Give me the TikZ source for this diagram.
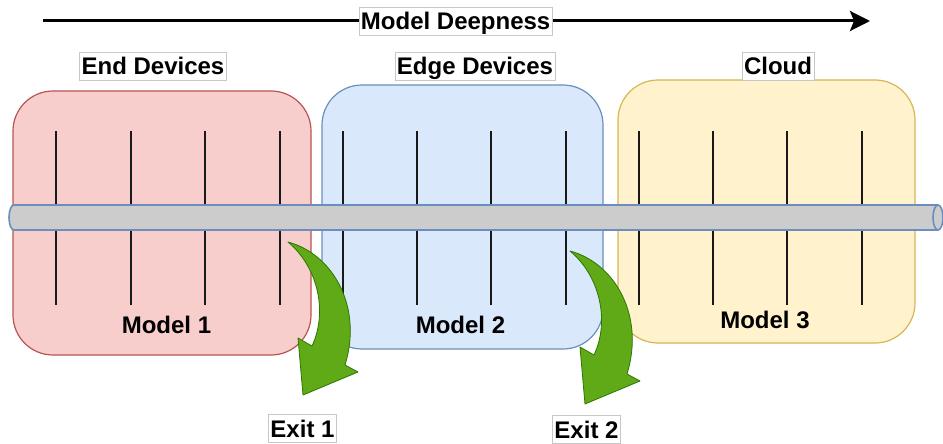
\documentclass[tikz,border=0pt]{standalone}
\usepackage{fontspec}
\setmainfont{Liberation Sans}
\usetikzlibrary{arrows.meta}

\definecolor{endfill}{HTML}{F8CECC}
\definecolor{endline}{HTML}{B85450}
\definecolor{edgefill}{HTML}{DAE8FC}
\definecolor{edgeline}{HTML}{6C8EBF}
\definecolor{cloudfill}{HTML}{FFF2CC}
\definecolor{cloudline}{HTML}{D6B656}
\definecolor{tubefill}{HTML}{CCCCCC}
\definecolor{exitfill}{HTML}{60A917}
\definecolor{exitline}{HTML}{2D7600}

\begin{document}
\begin{tikzpicture}[x=1pt,y=-1pt]
\tikzset{
  tier/.style={rounded corners=40pt, line width=1.2pt, inner sep=0pt},
  tag/.style={fill=white, draw=black!22, line width=0.6pt,
    font=\bfseries\fontsize{24}{24}\selectfont,
    inner xsep=2pt, inner ysep=0pt, minimum height=28pt,
    text height=20pt, text depth=3pt},
  modeltxt/.style={font=\bfseries\fontsize{24}{24}\selectfont,
    inner sep=0pt, text height=20pt, text depth=3pt},
  layer/.style={line width=2pt, black!90},
  tube/.style={fill=tubefill, draw=edgeline, line width=1.6pt},
  deep/.style={line width=3pt, -{Stealth[length=20pt,width=20pt,inset=4pt]}},
  exitarrow/.style={fill=exitfill, draw=exitline, line width=0.8pt, line join=round},
  exitshape/.pic={
    \filldraw[exitarrow] (0,0) .. controls (45,12) and (75,65) .. (57,123)
      -- (70,130) -- (15,153) -- (10,96) -- (24,104)
      .. controls (40,70) and (30,25) .. (0,0) -- cycle;
  }
}
\useasboundingbox (0,0) rectangle (943,444);

% three tiers of the split network
\node[tier, fill=endfill, draw=endline, minimum width=298pt, minimum height=264pt]
  (endbox) at (162,223) {};
\node[tier, fill=edgefill, draw=edgeline, minimum width=281pt, minimum height=264pt]
  (edgebox) at (462.5,217) {};
\node[tier, fill=cloudfill, draw=cloudline, minimum width=297pt, minimum height=263pt]
  (cloudbox) at (766.5,211.5) {};

% layers of each model part
\foreach \x in {56,131,205,280,343,417,491,566,639,713,787,862}
  \draw[layer] (\x,131) -- (\x,305);

% data path through all layers
\filldraw[tube] (14,205) -- (938,205)
  arc[start angle=-90, end angle=90, x radius=5, y radius=12.5]
  -- (14,230)
  arc[start angle=90, end angle=270, x radius=5, y radius=12.5] -- cycle;
\draw[draw=edgeline, line width=1.6pt] (938,205)
  arc[start angle=-90, end angle=-270, x radius=5, y radius=12.5];

% early exits
\pic at (288,242) {exitshape};
\pic at (570,251) {exitshape};

% depth axis
\coordinate (deepL) at (43,21);
\coordinate (deepR) at (870,21);
\draw[deep] (deepL) -- node[tag, pos=0.499] (deeplbl) {Model Deepness} (deepR);

% tier titles
\node[tag] (endlbl) at (153,66) {End Devices};
\node[tag] (edgelbl) at (475,66) {Edge Devices};
\node[tag] (cloudlbl) at (778,66) {Cloud};

% model names
\node[modeltxt] (m1) at (166.5,325) {Model 1};
\node[modeltxt] (m2) at (460.5,325) {Model 2};
\node[modeltxt] (m3) at (765,320) {Model 3};

% exit names
\node[tag] (exit1) at (302.5,428.5) {Exit 1};
\node[tag] (exit2) at (586.5,429.5) {Exit 2};
\end{tikzpicture}
\end{document}
